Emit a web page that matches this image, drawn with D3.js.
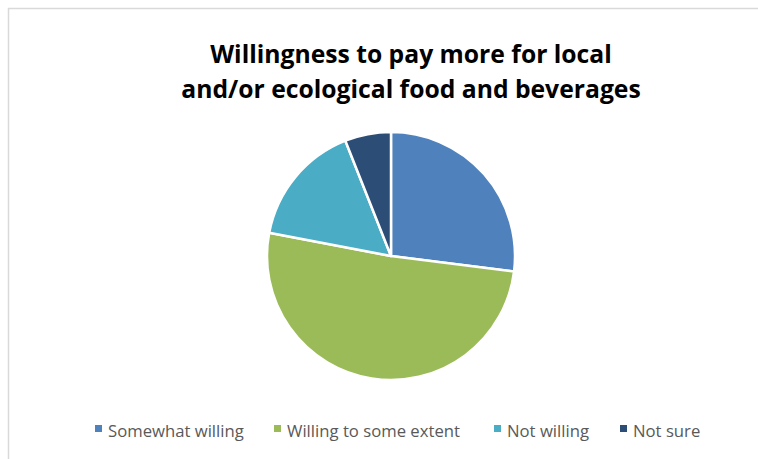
<!DOCTYPE html>
<html>
<head>
<meta charset="utf-8">
<script src="https://cdn.jsdelivr.net/npm/d3@7"></script>
<style>
  html, body { margin: 0; padding: 0; background: #fff; }
  svg { display: block; }
</style>
</head>
<body>
<svg id="chart" width="758" height="459"></svg>
<script>
// Survey answers and their shares (%)
const categories = ["Somewhat willing", "Willing to some extent", "Not willing", "Not sure"];
const shares = [27, 51, 16, 6];
const colors = ["#4F81BD", "#9BBB59", "#4BACC6", "#2C4D75"];
const titleLines = ["Willingness to pay more for local", "and/or ecological food and beverages"];

const W = 758, H = 459;
const svg = d3.select("#chart");

// chart frame (top and left edges visible)
svg.append("path")
  .attr("d", "M8.5,459 L8.5,8.5 L758,8.5")
  .attr("fill", "none")
  .attr("stroke", "#D9D9D9")
  .attr("stroke-width", 1.5);

// title
const title = svg.append("text")
  .attr("text-anchor", "middle")
  .attr("font-family", "'Open Sans', 'Liberation Sans', sans-serif")
  .attr("font-weight", "bold")
  .attr("font-size", 24.7)
  .attr("fill", "#000");
title.selectAll("tspan").data(titleLines).join("tspan")
  .attr("x", 411)
  .attr("y", (d, i) => 63 + i * 35)
  .text(d => d);

// pie
const cx = 391, cy = 256, r = 124;
const pie = d3.pie().sort(null).value(d => d.v);
const arc = d3.arc().innerRadius(0).outerRadius(r);
const data = categories.map((c, i) => ({ c, v: shares[i], col: colors[i] }));

svg.append("g")
  .attr("transform", `translate(${cx},${cy})`)
  .selectAll("path")
  .data(pie(data))
  .join("path")
  .attr("d", arc)
  .attr("fill", d => d.data.col)
  .attr("stroke", "#fff")
  .attr("stroke-width", 2.5)
  .attr("stroke-linejoin", "round");

// legend
const legendX = [95, 274, 494, 620];
const lg = svg.append("g")
  .attr("font-family", "'Open Sans', 'Liberation Sans', sans-serif")
  .attr("font-size", 16.7)
  .attr("fill", "#595959");
const items = lg.selectAll("g").data(data).join("g")
  .attr("transform", (d, i) => `translate(${legendX[i]},0)`);
items.append("rect")
  .attr("x", 0).attr("y", 425)
  .attr("width", 7).attr("height", 7)
  .attr("fill", d => d.col);
items.append("text")
  .attr("x", 13).attr("y", 437)
  .text(d => d.c);
</script>
</body>
</html>
